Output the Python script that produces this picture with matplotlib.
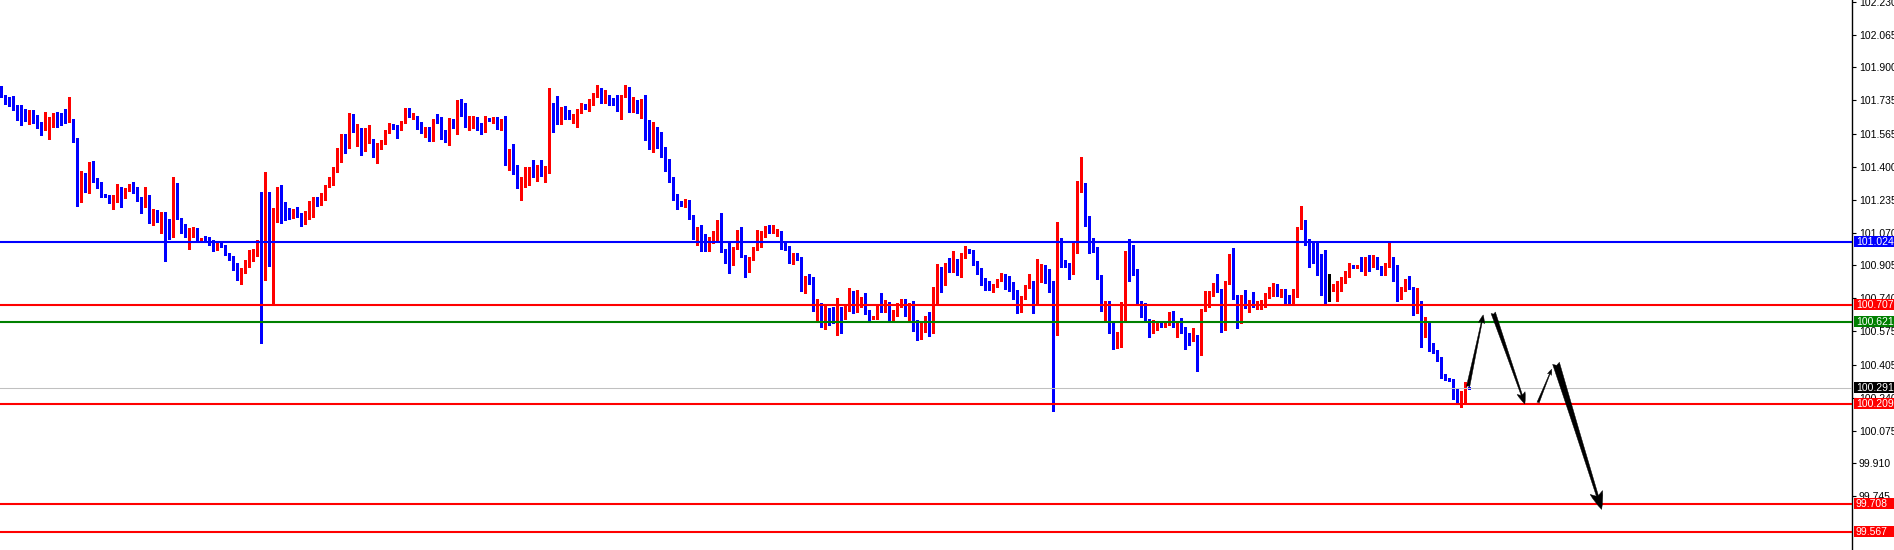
import matplotlib
matplotlib.use('Agg')
import matplotlib.pyplot as plt
import matplotlib.transforms as mtransforms
from matplotlib.patches import Rectangle
import numpy as np

plt.rcParams['font.family'] = ['Liberation Sans', 'DejaVu Sans']

# candle data (bar index 0 .. 367)
opens = [
    101.803, 101.756, 101.723, 101.709, 101.696, 101.681, 101.672, 101.652, 101.661, 101.636,
    101.607, 101.592, 101.597, 101.605, 101.659, 101.636, 101.636, 101.627, 101.636, 101.543,
    101.247, 101.347, 101.284, 101.424, 101.331, 101.304, 101.264, 101.254, 101.230, 101.237,
    101.284, 101.270, 101.284, 101.297, 101.284, 101.237, 101.213, 101.234, 101.121, 101.173,
    101.133, 101.158, 101.133, 101.049, 101.309, 101.140, 101.108, 101.049, 101.074, 101.088,
    101.024, 101.044, 101.032, 101.024, 100.986, 101.012, 101.002, 100.965, 100.949, 100.912,
    100.831, 100.882, 100.898, 100.932, 100.979, 100.996, 100.882, 101.213, 101.032, 101.133,
    101.234, 101.163, 101.153, 101.146, 101.170, 101.160, 101.130, 101.170, 101.217, 101.244,
    101.237, 101.240, 101.301, 101.344, 101.381, 101.431, 101.555, 101.502, 101.636, 101.589,
    101.595, 101.488, 101.525, 101.538, 101.468, 101.512, 101.522, 101.579, 101.605, 101.602,
    101.589, 101.622, 101.689, 101.649, 101.652, 101.605, 101.575, 101.592, 101.532, 101.639,
    101.625, 101.569, 101.538, 101.615, 101.602, 101.716, 101.706, 101.612, 101.619, 101.629,
    101.605, 101.575, 101.641, 101.636, 101.642, 101.615, 101.636, 101.460, 101.488, 101.404,
    101.314, 101.347, 101.361, 101.394, 101.384, 101.408, 101.361, 101.398, 101.679, 101.682,
    101.661, 101.681, 101.656, 101.646, 101.652, 101.677, 101.709, 101.696, 101.719, 101.759,
    101.793, 101.739, 101.759, 101.733, 101.756, 101.682, 101.756, 101.793, 101.713, 101.729,
    101.672, 101.736, 101.605, 101.532, 101.538, 101.508, 101.488, 101.435, 101.341, 101.244,
    101.217, 101.210, 101.230, 101.143, 101.032, 101.083, 101.032, 101.016, 101.032, 101.036,
    101.091, 100.979, 100.959, 100.955, 100.991, 101.043, 100.949, 100.885, 100.939, 100.989,
    101.049, 101.053, 101.086, 101.073, 101.056, 101.076, 100.999, 100.999, 100.939, 100.955,
    100.942, 100.815, 100.848, 100.838, 100.698, 100.704, 100.631, 100.687, 100.664, 100.624,
    100.661, 100.647, 100.694, 100.738, 100.681, 100.714, 100.738, 100.677, 100.637, 100.641,
    100.698, 100.677, 100.718, 100.641, 100.671, 100.701, 100.708, 100.687, 100.718, 100.597,
    100.540, 100.590, 100.641, 100.587, 100.741, 100.892, 100.818, 100.905, 100.888, 100.925,
    100.865, 100.945, 100.982, 100.976, 100.922, 100.888, 100.818, 100.801, 100.795, 100.798,
    100.831, 100.852, 100.835, 100.788, 100.771, 100.681, 100.741, 100.798, 100.821, 100.718,
    100.868, 100.905, 100.825, 100.821, 100.557, 101.033, 100.915, 100.909, 100.865, 100.986,
    101.307, 101.317, 101.123, 100.999, 100.992, 100.848, 100.677, 100.698, 100.607, 100.497,
    100.564, 100.644, 100.976, 100.972, 100.858, 100.721, 100.687, 100.631, 100.584, 100.607,
    100.614, 100.600, 100.614, 100.651, 100.597, 100.604, 100.590, 100.537, 100.533, 100.553,
    100.517, 100.681, 100.701, 100.755, 100.808, 100.782, 100.604, 100.818, 100.916, 100.751,
    100.617, 100.745, 100.694, 100.721, 100.715, 100.711, 100.704, 100.758, 100.755, 100.785,
    100.755, 100.768, 100.741, 100.725, 100.751, 101.096, 101.133, 101.036, 100.952, 100.922,
    100.902, 100.872, 100.775, 100.775, 100.778, 100.805, 100.822, 100.849, 100.902, 100.895,
    100.905, 100.902, 100.926, 100.916, 100.939, 100.899, 100.865, 100.902, 100.946, 100.882,
    100.758, 100.782, 100.798, 100.792, 100.698, 100.725, 100.587, 100.617, 100.517, 100.477,
    100.440, 100.346, 100.339, 100.333, 100.242, 100.212, 100.225, 100.292,
]
highs = [
    101.806, 101.763, 101.749, 101.756, 101.711, 101.709, 101.692, 101.686, 101.686, 101.661,
    101.625, 101.677, 101.652, 101.672, 101.676, 101.669, 101.689, 101.753, 101.639, 101.545,
    101.379, 101.367, 101.424, 101.429, 101.342, 101.324, 101.264, 101.259, 101.259, 101.314,
    101.297, 101.292, 101.314, 101.322, 101.301, 101.250, 101.301, 101.259, 101.187, 101.183,
    101.175, 101.175, 101.136, 101.351, 101.321, 101.143, 101.113, 101.091, 101.100, 101.091,
    101.044, 101.053, 101.049, 101.032, 101.024, 101.019, 101.007, 100.969, 100.952, 100.915,
    100.890, 100.932, 100.982, 100.989, 101.032, 101.272, 101.374, 101.272, 101.193, 101.301,
    101.309, 101.225, 101.192, 101.187, 101.200, 101.167, 101.180, 101.227, 101.250, 101.250,
    101.267, 101.311, 101.351, 101.401, 101.495, 101.565, 101.565, 101.672, 101.666, 101.614,
    101.595, 101.595, 101.609, 101.542, 101.518, 101.535, 101.585, 101.622, 101.615, 101.609,
    101.630, 101.694, 101.696, 101.669, 101.656, 101.625, 101.602, 101.599, 101.639, 101.666,
    101.652, 101.585, 101.644, 101.642, 101.736, 101.739, 101.719, 101.656, 101.656, 101.649,
    101.619, 101.656, 101.647, 101.649, 101.649, 101.639, 101.656, 101.491, 101.515, 101.409,
    101.351, 101.398, 101.401, 101.435, 101.409, 101.435, 101.404, 101.796, 101.719, 101.756,
    101.702, 101.706, 101.686, 101.666, 101.689, 101.723, 101.716, 101.739, 101.770, 101.811,
    101.796, 101.786, 101.763, 101.746, 101.763, 101.763, 101.813, 101.803, 101.753, 101.736,
    101.739, 101.759, 101.636, 101.625, 101.599, 101.575, 101.498, 101.441, 101.347, 101.264,
    101.227, 101.240, 101.234, 101.156, 101.100, 101.106, 101.063, 101.049, 101.076, 101.133,
    101.170, 100.989, 101.019, 100.999, 101.083, 101.096, 100.957, 100.949, 100.999, 101.083,
    101.079, 101.103, 101.106, 101.106, 101.086, 101.079, 101.016, 101.002, 100.966, 100.966,
    100.949, 100.852, 100.862, 100.845, 100.738, 100.714, 100.701, 100.691, 100.698, 100.741,
    100.698, 100.701, 100.791, 100.778, 100.781, 100.744, 100.765, 100.681, 100.651, 100.704,
    100.765, 100.731, 100.721, 100.681, 100.714, 100.734, 100.734, 100.718, 100.726, 100.631,
    100.614, 100.651, 100.671, 100.795, 100.912, 100.895, 100.919, 100.942, 100.976, 100.939,
    100.966, 101.002, 100.986, 100.982, 100.925, 100.892, 100.841, 100.825, 100.811, 100.838,
    100.865, 100.862, 100.852, 100.821, 100.781, 100.751, 100.808, 100.862, 100.825, 100.935,
    100.912, 100.909, 100.888, 100.825, 101.123, 101.043, 100.932, 100.915, 101.026, 101.331,
    101.451, 101.321, 101.153, 101.043, 100.996, 100.855, 100.724, 100.724, 100.614, 100.570,
    100.721, 100.979, 101.039, 101.006, 100.885, 100.724, 100.714, 100.634, 100.631, 100.620,
    100.620, 100.624, 100.671, 100.677, 100.614, 100.641, 100.594, 100.564, 100.590, 100.557,
    100.688, 100.778, 100.775, 100.818, 100.862, 100.785, 100.825, 100.962, 100.993, 100.755,
    100.755, 100.782, 100.731, 100.771, 100.728, 100.731, 100.765, 100.795, 100.815, 100.812,
    100.788, 100.785, 100.755, 100.785, 101.100, 101.204, 101.133, 101.039, 101.023, 101.019,
    100.962, 100.983, 100.862, 100.812, 100.828, 100.849, 100.879, 100.916, 100.905, 100.909,
    100.949, 100.946, 100.959, 100.956, 100.946, 100.902, 100.919, 101.023, 100.949, 100.905,
    100.798, 100.835, 100.852, 100.795, 100.792, 100.728, 100.648, 100.621, 100.517, 100.480,
    100.443, 100.359, 100.339, 100.336, 100.286, 100.276, 100.319, 100.296,
]
lows = [
    101.749, 101.716, 101.706, 101.686, 101.636, 101.612, 101.632, 101.615, 101.619, 101.594,
    101.562, 101.585, 101.542, 101.602, 101.602, 101.610, 101.619, 101.625, 101.527, 101.205,
    101.225, 101.274, 101.267, 101.326, 101.296, 101.250, 101.247, 101.220, 101.190, 101.225,
    101.200, 101.242, 101.280, 101.267, 101.228, 101.170, 101.200, 101.120, 101.108, 101.125,
    101.069, 100.929, 101.036, 101.049, 101.136, 101.069, 101.046, 100.989, 101.049, 101.021,
    101.021, 101.029, 101.007, 100.979, 100.982, 100.996, 100.955, 100.932, 100.882, 100.831,
    100.811, 100.865, 100.895, 100.929, 100.952, 100.517, 100.831, 100.902, 100.709, 101.125,
    101.120, 101.133, 101.136, 101.141, 101.146, 101.105, 101.113, 101.136, 101.146, 101.205,
    101.210, 101.234, 101.297, 101.311, 101.374, 101.426, 101.471, 101.497, 101.577, 101.505,
    101.461, 101.478, 101.518, 101.450, 101.421, 101.491, 101.515, 101.572, 101.592, 101.545,
    101.585, 101.619, 101.649, 101.642, 101.592, 101.569, 101.552, 101.530, 101.528, 101.619,
    101.538, 101.525, 101.512, 101.594, 101.565, 101.656, 101.599, 101.585, 101.595, 101.585,
    101.565, 101.574, 101.632, 101.619, 101.590, 101.585, 101.409, 101.384, 101.364, 101.294,
    101.234, 101.301, 101.311, 101.351, 101.331, 101.354, 101.324, 101.371, 101.575, 101.615,
    101.615, 101.639, 101.639, 101.619, 101.602, 101.672, 101.689, 101.682, 101.713, 101.749,
    101.723, 101.723, 101.713, 101.713, 101.679, 101.642, 101.753, 101.676, 101.677, 101.669,
    101.646, 101.535, 101.491, 101.476, 101.495, 101.451, 101.381, 101.324, 101.234, 101.190,
    101.203, 101.200, 101.136, 101.036, 101.006, 100.979, 100.979, 100.976, 101.019, 101.032,
    100.972, 100.919, 100.865, 100.907, 100.986, 100.945, 100.848, 100.872, 100.932, 100.982,
    100.999, 101.049, 101.069, 101.069, 101.053, 100.986, 100.982, 100.915, 100.912, 100.932,
    100.775, 100.768, 100.811, 100.677, 100.631, 100.597, 100.587, 100.607, 100.614, 100.554,
    100.567, 100.637, 100.677, 100.664, 100.671, 100.694, 100.661, 100.624, 100.634, 100.637,
    100.671, 100.671, 100.631, 100.631, 100.651, 100.694, 100.651, 100.624, 100.577, 100.530,
    100.537, 100.570, 100.550, 100.564, 100.711, 100.771, 100.808, 100.873, 100.872, 100.855,
    100.848, 100.942, 100.966, 100.909, 100.862, 100.805, 100.781, 100.781, 100.773, 100.795,
    100.828, 100.788, 100.775, 100.738, 100.667, 100.671, 100.738, 100.791, 100.667, 100.711,
    100.821, 100.815, 100.771, 100.175, 100.553, 100.895, 100.895, 100.838, 100.862, 100.969,
    101.274, 101.103, 100.969, 100.972, 100.838, 100.674, 100.624, 100.564, 100.483, 100.490,
    100.497, 100.620, 100.828, 100.855, 100.714, 100.647, 100.624, 100.547, 100.567, 100.580,
    100.597, 100.597, 100.607, 100.594, 100.547, 100.564, 100.483, 100.507, 100.523, 100.373,
    100.457, 100.678, 100.698, 100.751, 100.771, 100.570, 100.581, 100.812, 100.738, 100.591,
    100.614, 100.691, 100.671, 100.694, 100.688, 100.684, 100.698, 100.741, 100.751, 100.751,
    100.745, 100.718, 100.715, 100.715, 100.748, 101.090, 101.006, 100.899, 100.916, 100.859,
    100.755, 100.718, 100.728, 100.775, 100.725, 100.775, 100.815, 100.845, 100.892, 100.892,
    100.879, 100.855, 100.879, 100.895, 100.885, 100.859, 100.859, 100.899, 100.825, 100.725,
    100.735, 100.775, 100.785, 100.658, 100.664, 100.493, 100.547, 100.477, 100.467, 100.426,
    100.339, 100.329, 100.326, 100.235, 100.209, 100.192, 100.212, 100.286,
]
closes = [
    101.753, 101.719, 101.709, 101.692, 101.676, 101.672, 101.652, 101.659, 101.632, 101.602,
    101.592, 101.597, 101.605, 101.659, 101.630, 101.630, 101.627, 101.636, 101.543, 101.247,
    101.347, 101.284, 101.421, 101.331, 101.301, 101.254, 101.250, 101.230, 101.237, 101.284,
    101.277, 101.284, 101.297, 101.274, 101.234, 101.213, 101.234, 101.121, 101.173, 101.133,
    101.158, 101.133, 101.049, 101.309, 101.140, 101.100, 101.049, 101.079, 101.088, 101.024,
    101.041, 101.032, 101.024, 100.986, 101.016, 100.999, 100.959, 100.945, 100.912, 100.831,
    100.885, 100.902, 100.932, 100.982, 100.996, 100.888, 101.213, 101.133, 101.133, 101.234,
    101.158, 101.150, 101.146, 101.163, 101.156, 101.130, 101.173, 101.220, 101.240, 101.237,
    101.244, 101.304, 101.344, 101.384, 101.435, 101.555, 101.502, 101.636, 101.585, 101.595,
    101.491, 101.525, 101.538, 101.468, 101.515, 101.525, 101.582, 101.605, 101.594, 101.589,
    101.625, 101.689, 101.652, 101.656, 101.602, 101.572, 101.592, 101.532, 101.636, 101.622,
    101.565, 101.535, 101.615, 101.602, 101.716, 101.702, 101.605, 101.619, 101.629, 101.599,
    101.575, 101.646, 101.637, 101.642, 101.619, 101.636, 101.460, 101.488, 101.401, 101.314,
    101.347, 101.364, 101.394, 101.388, 101.404, 101.357, 101.401, 101.676, 101.672, 101.661,
    101.681, 101.652, 101.646, 101.656, 101.681, 101.709, 101.696, 101.726, 101.763, 101.793,
    101.739, 101.756, 101.729, 101.723, 101.682, 101.756, 101.793, 101.719, 101.726, 101.672,
    101.736, 101.602, 101.532, 101.535, 101.505, 101.485, 101.384, 101.337, 101.247, 101.207,
    101.210, 101.227, 101.140, 101.039, 101.079, 101.022, 101.016, 101.036, 101.039, 101.091,
    100.976, 100.955, 100.955, 100.991, 101.039, 100.949, 100.885, 100.939, 100.992, 101.053,
    101.058, 101.086, 101.073, 101.096, 101.076, 100.999, 100.996, 100.939, 100.955, 100.939,
    100.788, 100.845, 100.835, 100.694, 100.704, 100.624, 100.687, 100.661, 100.624, 100.661,
    100.647, 100.698, 100.738, 100.681, 100.711, 100.738, 100.671, 100.631, 100.647, 100.694,
    100.677, 100.714, 100.641, 100.677, 100.708, 100.711, 100.687, 100.711, 100.597, 100.537,
    100.594, 100.641, 100.587, 100.741, 100.892, 100.818, 100.905, 100.882, 100.925, 100.862,
    100.945, 100.979, 100.972, 100.919, 100.885, 100.815, 100.795, 100.791, 100.801, 100.835,
    100.848, 100.831, 100.788, 100.768, 100.681, 100.744, 100.801, 100.821, 100.718, 100.872,
    100.902, 100.821, 100.818, 100.553, 101.029, 100.909, 100.899, 100.865, 100.992, 101.307,
    101.317, 101.120, 100.996, 100.992, 100.841, 100.677, 100.698, 100.604, 100.497, 100.564,
    100.644, 100.976, 100.969, 100.858, 100.718, 100.684, 100.627, 100.584, 100.610, 100.614,
    100.600, 100.610, 100.651, 100.597, 100.604, 100.587, 100.533, 100.530, 100.550, 100.513,
    100.681, 100.704, 100.755, 100.805, 100.782, 100.604, 100.822, 100.916, 100.748, 100.617,
    100.751, 100.694, 100.725, 100.715, 100.718, 100.728, 100.761, 100.761, 100.782, 100.755,
    100.771, 100.738, 100.728, 100.751, 101.096, 101.130, 101.033, 100.949, 100.919, 100.899,
    100.872, 100.775, 100.775, 100.782, 100.808, 100.822, 100.852, 100.905, 100.895, 100.902,
    100.899, 100.926, 100.916, 100.936, 100.892, 100.865, 100.909, 100.946, 100.832, 100.761,
    100.775, 100.802, 100.788, 100.701, 100.725, 100.587, 100.614, 100.514, 100.473, 100.437,
    100.343, 100.333, 100.329, 100.239, 100.212, 100.225, 100.292, 100.289,
]

# horizontal levels drawn on the chart
levels = [101.024, 100.707, 100.621, 100.209, 99.708, 99.567]
level_colors = ['#0000ff', '#ff0000', '#008000', '#ff0000', '#ff0000', '#ff0000']
bid = 100.291

price_ticks = [102.230, 102.065, 101.900, 101.735, 101.565, 101.400, 101.235, 101.070,
               100.905, 100.740, 100.575, 100.405, 100.240, 100.075, 99.910, 99.745]

# projected path arrows: (start bar, start price, end bar, end price, size)
arrows = [
    (366.7, 100.295, 370.5, 100.656, 8),
    (373.0, 100.667, 380.9, 100.209, 11),
    (384.2, 100.215, 387.6, 100.383, 5.5),
    (388.7, 100.413, 400.1, 99.679, 17),
]

W, H = 1894, 550
AX_W = 1852

fig = plt.figure(figsize=(W / 100, H / 100), dpi=100)
ax = fig.add_axes([0, 0, AX_W / W, 1])
ax.set_facecolor('white')

o = np.array(opens)
h = np.array(highs)
l = np.array(lows)
c = np.array(closes)
x = np.arange(len(o))

cols = np.where(c > o, '#ff0000', np.where(c < o, '#0000ff', '#000000'))

ax.vlines(x, l, h, colors=cols, linewidth=0.75, antialiased=False, zorder=2)
body_h = np.maximum(np.abs(c - o), 0.004)
body_b = np.minimum(o, c) - np.where(np.abs(c - o) < 0.004, 0.002, 0)
ax.bar(x, body_h, bottom=body_b, width=0.75, color=cols, linewidth=0,
       antialiased=False, zorder=2)

# level lines
ax.axhline(bid, color='#c0c0c0', linewidth=0.75, zorder=3)
for lv, col in zip(levels, level_colors):
    ax.axhline(lv, color=col, linewidth=1.5, zorder=3)

# arrows
for x0, y0, x1, y1, s in arrows:
    ax.annotate('', xy=(x1, y1), xytext=(x0, y0),
                arrowprops=dict(arrowstyle='fancy,head_length=0.75,head_width=0.55,tail_width=0.3',
                                fc='black', ec='black', lw=0.3,
                                mutation_scale=s, shrinkA=0, shrinkB=0),
                zorder=4)

ax.set_xlim(-0.33, 462.7)
ax.set_ylim(99.475, 102.2386)

for side in ['top', 'left', 'bottom']:
    ax.spines[side].set_visible(False)
ax.spines['right'].set_color('black')
ax.spines['right'].set_linewidth(1)

ax.set_xticks([])
ax.yaxis.tick_right()
ax.set_yticks(price_ticks)
ax.set_yticklabels(['%.3f' % t for t in price_ticks])
ax.tick_params(axis='y', length=3, width=0.8, direction='out', pad=2,
               labelsize=7.5, colors='black')

# price labels on the axis
trans = mtransforms.blended_transform_factory(ax.transAxes, ax.transData)
box_h = 11 * (102.2386 - 99.475) / H
tags = [(bid, '#000000')] + list(zip(levels, level_colors))
for lv, col in tags:
    ax.add_patch(Rectangle((1 + 2 / AX_W, lv - box_h / 2), 40 / AX_W, box_h,
                           transform=trans, facecolor=col, edgecolor='none',
                           clip_on=False, zorder=10))
    ax.text(1 + 4 / AX_W, lv, '%.3f' % lv, transform=trans, color='white',
            fontsize=7.5, ha='left', va='center', clip_on=False, zorder=11)

fig.savefig('out.png', dpi=100, facecolor='white')
